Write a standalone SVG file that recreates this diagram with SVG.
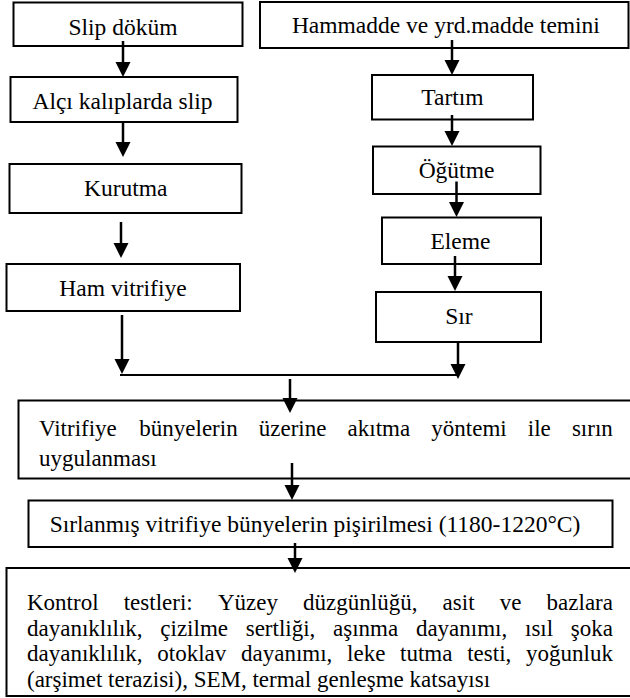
<svg xmlns="http://www.w3.org/2000/svg" width="630" height="698" viewBox="0 0 630 698">
<style>
.box{fill:#fff;stroke:#000;stroke-width:2}
</style>
<defs>
<marker id="ah" markerUnits="userSpaceOnUse" markerWidth="16" markerHeight="16" refX="5" refY="7.5" orient="auto">
<path d="M0 0 L15 7.5 L0 15 Z" fill="#000"/>
</marker>
</defs>
<rect x="0" y="0" width="630" height="698" fill="#fff"/>
<g id="n-slip-dokum">
<rect class="box" x="13.5" y="2.5" width="229" height="43.5"/>
<text font-family="Times New Roman" font-size="23.5" text-anchor="middle" x="123" y="35">Slip döküm</text>
</g>
<g id="n-alci">
<rect class="box" x="10.5" y="77" width="227" height="45"/>
<text font-family="Times New Roman" font-size="23.5" text-anchor="middle" x="122.5" y="108.5">Alçı kalıplarda slip</text>
</g>
<g id="n-kurutma">
<rect class="box" x="9.5" y="164" width="232" height="49"/>
<text font-family="Times New Roman" font-size="23.5" text-anchor="middle" x="125.8" y="196">Kurutma</text>
</g>
<g id="n-ham">
<rect class="box" x="6.5" y="264" width="233.5" height="47"/>
<text font-family="Times New Roman" font-size="23.5" text-anchor="middle" x="123" y="295.5">Ham vitrifiye</text>
</g>
<g id="n-hammadde">
<rect class="box" x="260" y="2" width="368.5" height="46"/>
<text font-family="Times New Roman" font-size="23.5" text-anchor="middle" x="445.9" y="33">Hammadde ve yrd.madde temini</text>
</g>
<g id="n-tartim">
<rect class="box" x="372" y="75" width="161" height="44.5"/>
<text font-family="Times New Roman" font-size="23.5" text-anchor="middle" x="452.5" y="105">Tartım</text>
</g>
<g id="n-ogutme">
<rect class="box" x="373" y="146.5" width="167.5" height="47.5"/>
<text font-family="Times New Roman" font-size="23.5" text-anchor="middle" x="456.5" y="178">Öğütme</text>
</g>
<g id="n-eleme">
<rect class="box" x="382" y="217.5" width="159" height="46.5"/>
<text font-family="Times New Roman" font-size="23.5" text-anchor="middle" x="460.5" y="249">Eleme</text>
</g>
<g id="n-sir">
<rect class="box" x="376" y="292" width="165" height="50"/>
<text font-family="Times New Roman" font-size="23.5" text-anchor="middle" x="458.9" y="324">Sır</text>
</g>
<g id="n-akitma">
<rect class="box" x="18.5" y="400.5" width="614" height="78"/>
<text font-family="Times New Roman" font-size="23" y="435.5"><tspan x="39">Vitrifiye</tspan><tspan x="139.3">bünyelerin</tspan><tspan x="258.8">üzerine</tspan><tspan x="347.6">akıtma</tspan><tspan x="431.3">yöntemi</tspan><tspan x="527.8">ile</tspan><tspan x="571.9">sırın</tspan></text>
<text font-family="Times New Roman" font-size="23" x="39" y="466">uygulanması</text>
</g>
<g id="n-pisirme">
<rect class="box" x="28.5" y="500.5" width="584" height="46.5"/>
<text font-family="Times New Roman" font-size="23.5" text-anchor="middle" x="315" y="532">Sırlanmış vitrifiye bünyelerin pişirilmesi (1180-1220°C)</text>
</g>
<g id="n-kontrol">
<rect class="box" x="6.5" y="568" width="626" height="128"/>
<text font-family="Times New Roman" font-size="23" y="610"><tspan x="27">Kontrol</tspan><tspan x="123.7">testleri:</tspan><tspan x="217.9">Yüzey</tspan><tspan x="303.1">düzgünlüğü,</tspan><tspan x="442.6">asit</tspan><tspan x="499.7">ve</tspan><tspan x="546.6">bazlara</tspan></text>
<text font-family="Times New Roman" font-size="23" y="636"><tspan x="27">dayanıklılık,</tspan><tspan x="160.3">çizilme</tspan><tspan x="245.7">sertliği,</tspan><tspan x="333">aşınma</tspan><tspan x="415.9">dayanımı,</tspan><tspan x="525">ısıl</tspan><tspan x="570.8">şoka</tspan></text>
<text font-family="Times New Roman" font-size="23" y="661"><tspan x="27">dayanıklılık,</tspan><tspan x="157.3">otoklav</tspan><tspan x="241">dayanımı,</tspan><tspan x="347.1">leke</tspan><tspan x="400.1">tutma</tspan><tspan x="467.2">testi,</tspan><tspan x="526">yoğunluk</tspan></text>
<text font-family="Times New Roman" font-size="23" x="27" y="687">(arşimet terazisi), SEM, termal genleşme katsayısı</text>
</g>
<g id="connectors" stroke="#000" stroke-width="2.5" fill="none">
<path d="M123 41 V67" marker-end="url(#ah)"/>
<path d="M123 122 V147" marker-end="url(#ah)"/>
<path d="M121 222 V248" marker-end="url(#ah)"/>
<path d="M122 315 V364" marker-end="url(#ah)"/>
<path d="M452 40 V65" marker-end="url(#ah)"/>
<path d="M452 115 V136" marker-end="url(#ah)"/>
<path d="M456.5 181.5 V207" marker-end="url(#ah)"/>
<path d="M455 256 V281" marker-end="url(#ah)"/>
<path d="M458 342 V369" marker-end="url(#ah)"/>
<path d="M120 375 H458" stroke-width="2"/>
<path d="M290 379 V403" marker-end="url(#ah)"/>
<path d="M292 463 V490" marker-end="url(#ah)"/>
<path d="M295 543 V563" marker-end="url(#ah)"/>
</g>
</svg>
